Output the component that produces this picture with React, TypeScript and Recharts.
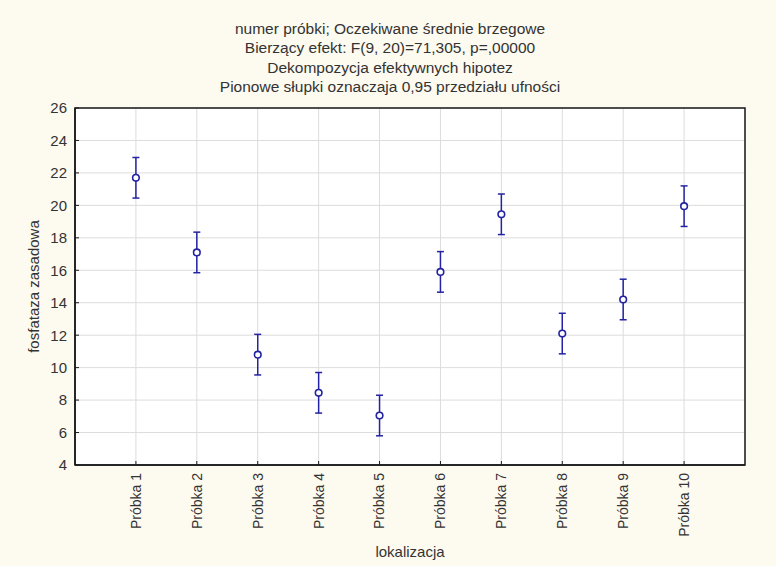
import React from 'react';
import { ScatterChart, Scatter, XAxis, YAxis, CartesianGrid, ErrorBar, ReferenceArea } from 'recharts';

const categories = [
  'Próbka 1', 'Próbka 2', 'Próbka 3', 'Próbka 4', 'Próbka 5',
  'Próbka 6', 'Próbka 7', 'Próbka 8', 'Próbka 9', 'Próbka 10',
];
const means = [21.7, 17.1, 10.8, 8.45, 7.05, 15.9, 19.45, 12.1, 14.2, 19.95];
const ciHalf = [1.25, 1.25, 1.25, 1.25, 1.25, 1.25, 1.25, 1.25, 1.25, 1.25];
const yTicks = [4, 6, 8, 10, 12, 14, 16, 18, 20, 22, 24, 26];
const titleLines = [
  'numer próbki; Oczekiwane średnie brzegowe',
  'Bierzący efekt: F(9, 20)=71,305, p=,00000',
  'Dekompozycja efektywnych hipotez',
  'Pionowe słupki oznaczaja 0,95 przedziału ufności',
];

const data = categories.map((name, i) => ({ pos: i + 1, name, mean: means[i], ci: ciHalf[i] }));
const xTicks = categories.map((_, i) => i + 1);

const FONT = '"Liberation Sans", Arial, sans-serif';
const TEXT = '#333';
const FRAME = '#1a1a1a';
const BLUE = '#2323a3';
const BG = '#fdfaf0';

const XTick = (props: any) => {
  const { x, y, payload } = props;
  return (
    <text
      x={0}
      y={0}
      dy="0.35em"
      transform={`translate(${x},${y}) rotate(-90)`}
      textAnchor="end"
      fontSize={14}
      fill={TEXT}
      fontFamily={FONT}
    >
      {categories[payload.value - 1]}
    </text>
  );
};

const dot = (p: any) => (
  <circle cx={p.cx} cy={p.cy} r={3.3} fill="#fff" stroke={BLUE} strokeWidth={1.6} />
);

export default function App() {
  return (
    <div style={{ position: 'relative', width: 776, height: 566, background: BG, fontFamily: FONT }}>
      <style>{'body{margin:0}'}</style>
      <div
        style={{
          position: 'absolute', top: 19, left: 2, width: 776, textAlign: 'center',
          fontSize: 15.5, lineHeight: '19.3px', color: TEXT,
        }}
      >
        {titleLines.map((t) => <div key={t}>{t}</div>)}
      </div>
      <ScatterChart width={776} height={566} margin={{ top: 108, right: 31, bottom: 0, left: 0 }}>
        <CartesianGrid stroke="#dcdcdc" fill="#fff" />
        <XAxis
          type="number"
          dataKey="pos"
          domain={[0, 11]}
          ticks={xTicks}
          interval={0}
          height={101}
          axisLine={{ stroke: FRAME, strokeWidth: 1.5 }}
          tickLine={{ stroke: FRAME }}
          tickSize={-4}
          tickMargin={12}
          tick={<XTick />}
          label={(p: any) => (
            <text
              x={p.viewBox.x + p.viewBox.width / 2}
              y={p.viewBox.y + 86}
              textAnchor="middle"
              dominantBaseline="central"
              fontSize={15}
              fill={TEXT}
              fontFamily={FONT}
            >
              lokalizacja
            </text>
          )}
        />
        <XAxis
          xAxisId="top"
          orientation="top"
          type="number"
          domain={[0, 11]}
          ticks={xTicks}
          interval={0}
          height={0}
          axisLine={{ stroke: FRAME, strokeWidth: 1.5 }}
          tickLine={{ stroke: FRAME }}
          tickSize={-4}
          tick={false}
        />
        <YAxis
          type="number"
          dataKey="mean"
          domain={[4, 26]}
          ticks={yTicks}
          interval={0}
          width={75}
          axisLine={{ stroke: FRAME, strokeWidth: 1.5 }}
          tickLine={{ stroke: FRAME }}
          tickSize={-4}
          tickMargin={12}
          tick={{ fontSize: 15, fill: TEXT, fontFamily: FONT }}
          label={(p: any) => {
            const cx = 33;
            const cy = p.viewBox.y + p.viewBox.height / 2;
            return (
              <text
                x={cx}
                y={cy}
                transform={`rotate(-90 ${cx} ${cy})`}
                textAnchor="middle"
                dominantBaseline="central"
                fontSize={15}
                fill={TEXT}
                fontFamily={FONT}
              >
                fosfataza zasadowa
              </text>
            );
          }}
        />
        <YAxis
          yAxisId="right"
          orientation="right"
          type="number"
          domain={[4, 26]}
          ticks={yTicks}
          interval={0}
          width={0}
          axisLine={{ stroke: FRAME, strokeWidth: 1.5 }}
          tickLine={{ stroke: FRAME }}
          tickSize={-4}
          tick={false}
        />
        <ReferenceArea x1={0} x2={11} y1={4} y2={26} fill="none" stroke={FRAME} strokeWidth={1.5} ifOverflow="visible" />
        <Scatter data={data} dataKey="mean" isAnimationActive={false} shape={dot}>
          <ErrorBar dataKey="ci" direction="y" width={3.5} stroke={BLUE} strokeWidth={1.5} isAnimationActive={false} />
        </Scatter>
      </ScatterChart>
    </div>
  );
}
